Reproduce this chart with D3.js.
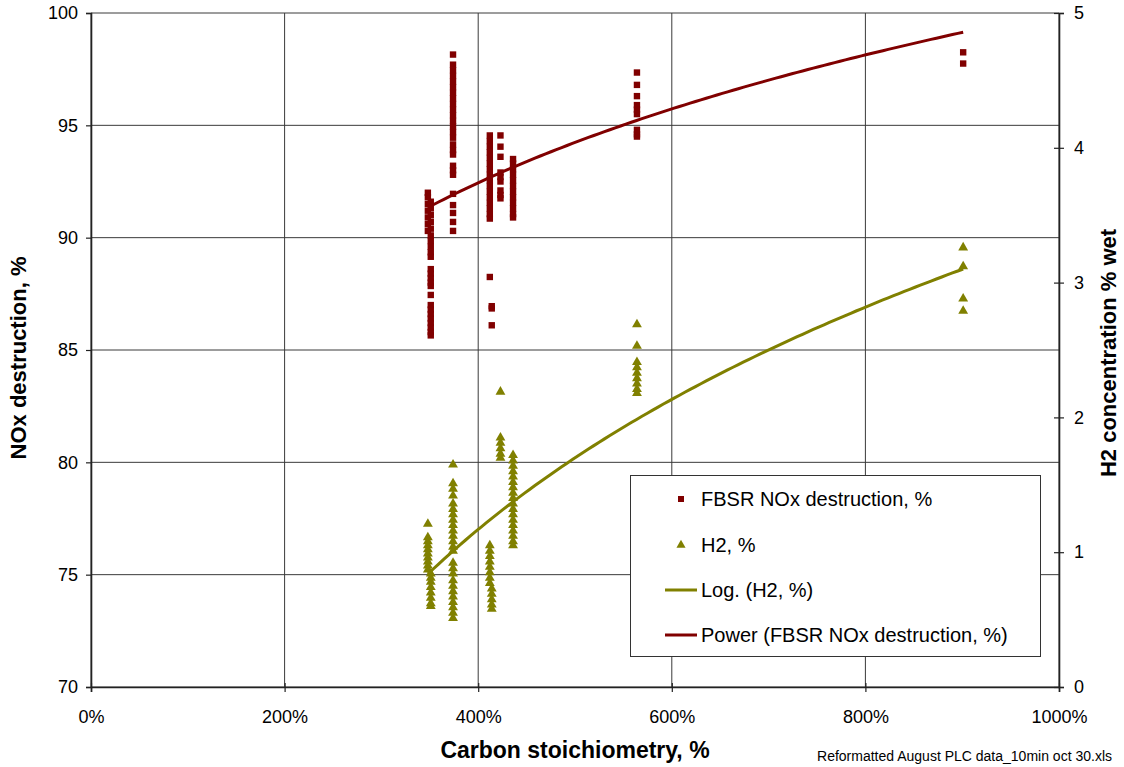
<!DOCTYPE html>
<html>
<head>
<meta charset="utf-8">
<script src="https://cdn.jsdelivr.net/npm/d3@7/dist/d3.min.js"></script>
<style>
  html, body { margin: 0; padding: 0; background: #fff; }
  svg { display: block; font-family: Arial, "Liberation Sans", sans-serif; }
</style>
</head>
<body>
<svg id="chart" width="1124" height="767"></svg>
<script>
// Carbon stoichiometry (%) of each test run
const carbonRuns = [348, 351, 374, 412, 414, 423, 436, 564, 901];

// FBSR NOx destruction (%) readings per run (left axis)
const noxRuns = [
  [92.0, 91.8, 91.5, 91.2, 90.9, 90.6, 90.3],
  [91.6, 91.3, 91.0, 90.7, 90.4, 90.1, 89.85, 89.6, 89.35, 89.15,
   88.6, 88.4, 88.2, 88.0, 87.85, 87.45,
   87.0, 86.8, 86.6, 86.4, 86.2, 86.0, 85.8, 85.65],
  [98.15, 97.7, 97.45, 97.2, 96.95, 96.7, 96.45, 96.2, 95.95, 95.7, 95.45,
   95.2, 94.95, 94.7, 94.45, 94.15, 93.9, 93.7, 93.2, 93.0, 92.8,
   91.95, 91.45, 91.1, 90.7, 90.3],
  [94.55, 94.3, 94.05, 93.8, 93.55, 93.3, 93.05, 92.8, 92.55, 92.3, 92.05,
   91.8, 91.55, 91.3, 91.05, 90.85, 88.25],
  [86.95, 86.85, 86.1],
  [94.55, 94.05, 93.6, 92.9, 92.7, 92.5, 92.1, 91.9, 91.75],
  [93.5, 93.3, 93.05, 92.8, 92.55, 92.3, 92.05, 91.8, 91.55, 91.3, 91.05, 90.9],
  [97.35, 96.8, 96.3, 95.9, 95.7, 95.5, 94.8, 94.6, 94.5],
  [98.25, 97.75]
];

// H2 concentration (% wet) readings per run (right axis)
const h2Runs = [
  [1.21, 1.11, 1.08, 1.05, 1.02, 0.99, 0.96, 0.93, 0.90, 0.87],
  [0.84, 0.81, 0.78, 0.74, 0.70, 0.66, 0.62, 0.60],
  [1.65, 1.51, 1.47, 1.42, 1.36, 1.32, 1.28, 1.24, 1.20, 1.16, 1.12, 1.08,
   1.04, 1.01, 0.92, 0.88, 0.84, 0.79, 0.75, 0.71, 0.67, 0.63, 0.59, 0.55, 0.51],
  [1.05, 1.01, 0.97, 0.93, 0.89, 0.85, 0.81, 0.77],
  [0.73, 0.69, 0.65, 0.61, 0.58],
  [2.19, 1.85, 1.81, 1.77, 1.73, 1.70],
  [1.72, 1.68, 1.64, 1.60, 1.56, 1.52, 1.48, 1.44, 1.40, 1.36, 1.32, 1.28,
   1.24, 1.20, 1.16, 1.12, 1.08, 1.05],
  [2.69, 2.53, 2.41, 2.37, 2.33, 2.29, 2.25, 2.21, 2.18],
  [3.26, 3.12, 2.88, 2.79]
];

// Fitted trendlines (x as a fraction: 3.5 = 350 %)
const noxPowerFit = { a: 82.03, b: 0.0862 };   // y = a * x^b
const h2LogFit = { c: -2.129, d: 2.379 };      // y = c + d * ln(x)

const xTicks = [0, 200, 400, 600, 800, 1000];
const yLeftTicks = [70, 75, 80, 85, 90, 95, 100];
const yRightTicks = [0, 1, 2, 3, 4, 5];

const legendLabels = [
  "FBSR NOx destruction, %",
  "H2, %",
  "Log. (H2, %)",
  "Power (FBSR NOx destruction, %)"
];

const RED = "#800000";
const OLIVE = "#808000";

const svg = d3.select("#chart");
const plot = { left: 91, right: 1059, top: 13, bottom: 687 };

const x = d3.scaleLinear().domain([0, 1000]).range([plot.left, plot.right]);
const yL = d3.scaleLinear().domain([70, 100]).range([plot.bottom, plot.top]);
const yR = d3.scaleLinear().domain([0, 5]).range([plot.bottom, plot.top]);

// Gridlines
const grid = svg.append("g").attr("stroke", "#3a3a3a").attr("stroke-width", 1);
yLeftTicks.forEach(t => {
  grid.append("line")
    .attr("x1", plot.left).attr("x2", plot.right)
    .attr("y1", yL(t)).attr("y2", yL(t));
});
xTicks.forEach(t => {
  grid.append("line")
    .attr("x1", x(t)).attr("x2", x(t))
    .attr("y1", plot.top).attr("y2", plot.bottom);
});

// Axes
const fmtPct = d => d + "%";
const xAxis = svg.append("g")
  .attr("transform", `translate(0,${plot.bottom})`)
  .call(d3.axisBottom(x).tickValues(xTicks).tickFormat(fmtPct).tickSize(5).tickPadding(18));
const yAxisL = svg.append("g")
  .attr("transform", `translate(${plot.left},0)`)
  .call(d3.axisLeft(yL).tickValues(yLeftTicks).tickFormat(d3.format("d")).tickSize(5).tickPadding(8));
const yAxisR = svg.append("g")
  .attr("transform", `translate(${plot.right},0)`)
  .call(d3.axisRight(yR).tickValues(yRightTicks).tickFormat(d3.format("d")).tickSize(5).tickPadding(10));

// right axis ticks cross the axis line
yAxisR.selectAll(".tick line").attr("x1", -5);
xAxis.selectAll(".tick line").attr("y1", -4);

[xAxis, yAxisL, yAxisR].forEach(g => {
  g.select(".domain").attr("stroke", "#222").attr("stroke-width", 1.6);
  g.selectAll(".tick line").attr("stroke", "#222").attr("stroke-width", 1.2);
  g.selectAll(".tick text")
    .attr("fill", "#000")
    .style("font-size", "18px")
    .style("font-family", "Arial, 'Liberation Sans', sans-serif");
});

// Trendlines
const xMin = d3.min(carbonRuns), xMax = d3.max(carbonRuns);
const trendXs = d3.range(0, 101).map(i => xMin + (xMax - xMin) * i / 100);

const powerLine = d3.line()
  .x(d => x(d))
  .y(d => yL(noxPowerFit.a * Math.pow(d / 100, noxPowerFit.b)));
const logLine = d3.line()
  .x(d => x(d))
  .y(d => yR(h2LogFit.c + h2LogFit.d * Math.log(d / 100)));

// Markers
const noxPoints = [];
noxRuns.forEach((vals, i) => vals.forEach(v => noxPoints.push([carbonRuns[i], v])));
const h2Points = [];
h2Runs.forEach((vals, i) => vals.forEach(v => h2Points.push([carbonRuns[i], v])));

const triSym = d3.symbol().type(d3.symbolTriangle).size(42);

svg.append("g").selectAll("path")
  .data(h2Points).join("path")
  .attr("d", triSym)
  .attr("transform", d => `translate(${x(d[0])},${yR(d[1])})`)
  .attr("fill", OLIVE);

svg.append("path")
  .datum(trendXs)
  .attr("d", logLine)
  .attr("fill", "none").attr("stroke", OLIVE).attr("stroke-width", 3);

svg.append("g").selectAll("rect")
  .data(noxPoints).join("rect")
  .attr("x", d => x(d[0]) - 3.2)
  .attr("y", d => yL(d[1]) - 3.2)
  .attr("width", 6.4).attr("height", 6.4)
  .attr("fill", RED);

svg.append("path")
  .datum(trendXs)
  .attr("d", powerLine)
  .attr("fill", "none").attr("stroke", RED).attr("stroke-width", 3);

// Axis titles
svg.append("text")
  .attr("x", 575).attr("y", 758)
  .attr("text-anchor", "middle")
  .style("font-size", "23px").style("font-weight", "bold")
  .text("Carbon stoichiometry, %");

svg.append("text")
  .attr("transform", "translate(26,358) rotate(-90)")
  .attr("text-anchor", "middle")
  .style("font-size", "22px").style("font-weight", "bold")
  .text("NOx destruction, %");

svg.append("text")
  .attr("transform", "translate(1116,353) rotate(-90)")
  .attr("text-anchor", "middle")
  .style("font-size", "22px").style("font-weight", "bold")
  .text("H2 concentration % wet");

svg.append("text")
  .attr("x", 1112).attr("y", 761)
  .attr("text-anchor", "end")
  .style("font-size", "14px")
  .text("Reformatted August PLC data_10min oct 30.xls");

// Legend
const lg = svg.append("g");
lg.append("rect")
  .attr("x", 630.5).attr("y", 475.5).attr("width", 410).attr("height", 181)
  .attr("fill", "#fff").attr("stroke", "#333").attr("stroke-width", 1);

const rowY = [499, 545, 590, 635];
lg.append("rect").attr("x", 678).attr("y", rowY[0] - 3).attr("width", 6).attr("height", 6).attr("fill", RED);
lg.append("path").attr("d", d3.symbol().type(d3.symbolTriangle).size(36))
  .attr("transform", `translate(681,${rowY[1]})`).attr("fill", OLIVE);
lg.append("line").attr("x1", 665).attr("x2", 697).attr("y1", rowY[2]).attr("y2", rowY[2])
  .attr("stroke", OLIVE).attr("stroke-width", 3);
lg.append("line").attr("x1", 665).attr("x2", 697).attr("y1", rowY[3]).attr("y2", rowY[3])
  .attr("stroke", RED).attr("stroke-width", 3);

legendLabels.forEach((t, i) => {
  lg.append("text")
    .attr("x", 701).attr("y", rowY[i])
    .attr("dy", "0.35em")
    .style("font-size", "20px")
    .text(t);
});
</script>
</body>
</html>
